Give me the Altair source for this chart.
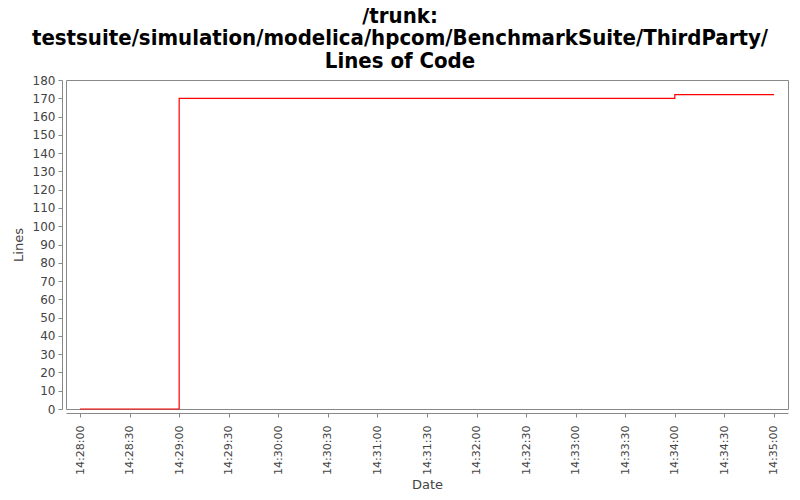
import altair as alt
import pandas as pd

times = ["2013-01-01T14:28:00", "2013-01-01T14:29:00", "2013-01-01T14:34:00", "2013-01-01T14:35:00"]
lines = [0, 170, 172, 172]

tick_minutes = [28, 28, 29, 29, 30, 30, 31, 31, 32, 32, 33, 33, 34, 34, 35]
tick_seconds = [0, 30] * 7 + [0]
y_ticks = list(range(0, 181, 10))

df = pd.DataFrame({"date": times, "lines": lines})

tick_values = [alt.DateTime(year=2013, month=1, date=1, hours=14, minutes=m, seconds=s)
               for m, s in zip(tick_minutes, tick_seconds)]
domain = [alt.DateTime(year=2013, month=1, date=1, hours=14, minutes=27, seconds=51, milliseconds=500),
          alt.DateTime(year=2013, month=1, date=1, hours=14, minutes=35, seconds=8, milliseconds=500)]

axis_common = dict(
    grid=False,
    domainColor="#888888",
    tickColor="#888888",
    labelColor="#444444",
    titleColor="#444444",
    labelFont="DejaVu Sans",
    titleFont="DejaVu Sans",
    titleFontWeight="normal",
    titleFontSize=13,
    tickSize=4,
    offset=4,
)

chart = alt.Chart(df).mark_line(interpolate="step-after", color="#ff0000", strokeWidth=1.2).encode(
    x=alt.X("date:T", title="Date",
            scale=alt.Scale(domain=domain, nice=False),
            axis=alt.Axis(values=tick_values, format="%H:%M:%S", labelAngle=270,
                          labelAlign="right", labelBaseline="middle", labelPadding=8,
                          labelFontSize=11, titlePadding=4, **axis_common)),
    y=alt.Y("lines:Q", title="Lines",
            scale=alt.Scale(domain=[0, 180], nice=False),
            axis=alt.Axis(values=y_ticks, labelFontSize=12, labelPadding=3,
                          titlePadding=7, **axis_common)),
).properties(
    width=722,
    height=329,
    autosize=alt.AutoSizeParams(type="none"),
    padding={"left": 58, "top": 72, "right": 4, "bottom": 83},
    title=alt.TitleParams(
        text=["/trunk:", "testsuite/simulation/modelica/hpcom/BenchmarkSuite/ThirdParty/", "Lines of Code"],
        font="DejaVu Sans Condensed",
        fontSize=22,
        fontWeight="bold",
        lineHeight=22.5,
        color="#000000",
        anchor="middle",
        dx=-27,
        offset=1.5,
    ),
).configure_view(stroke="#888888", strokeWidth=1)

chart.save("out.html", embed_options={"renderer": "svg", "actions": False})
